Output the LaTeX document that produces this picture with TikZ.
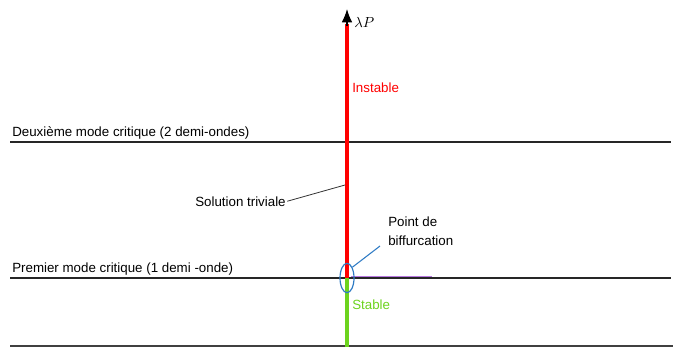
\documentclass[tikz,border=0pt]{standalone}
\usepackage{fontspec}
\setmainfont{Liberation Sans}
\usetikzlibrary{arrows.meta,shapes.geometric}
\definecolor{stablegreen}{HTML}{6CD31E}
\definecolor{bifblue}{HTML}{2E7BC4}
\definecolor{lilac}{HTML}{B878E0}
\tikzset{
  px/.style={x=0.75pt,y=-0.75pt},
  lbl/.style={font=\fontsize{10}{12}\selectfont, inner sep=0pt, anchor=base west},
  hline/.style={line width=0.9pt, black!85},
}
\begin{document}
\begin{tikzpicture}[px]
\useasboundingbox (0,0) rectangle (673,347);
% coordinates
\coordinate (top) at (347,9);
\coordinate (bif) at (347,278);
\coordinate (bot) at (347,347);
\coordinate (l1a) at (10,142); \coordinate (l1b) at (671,142);
\coordinate (l2a) at (10,278); \coordinate (l2b) at (671,278);
\coordinate (l3a) at (10,346); \coordinate (l3b) at (673,346);
% horizontal lines
\draw[hline] (l1a) -- (l1b);
\draw[lilac, line width=1.3pt] (351,277.3) coordinate (pa) -- (432,277.3) coordinate (pb);
\draw[hline] (l2a) -- (l2b);
\draw[line width=1.6pt, black!75] (l3a) -- (l3b);
% axis
\draw[red, line width=2.4pt] (bif) -- (347,24) coordinate (rtop);
\draw[-{Latex[length=10pt,width=8pt]}, line width=1pt, black] (347,26) -- (top);
\draw[stablegreen, line width=2.4pt] (bif) -- (bot);
% ellipse
\node[draw=bifblue, line width=0.9pt, ellipse, minimum width=10.5pt, minimum height=22pt, inner sep=0pt] (ell) at (bif) {};
% labels
\node[lbl, font=\fontsize{11}{13}\selectfont] (lam) at (354,27) {$\lambda P$};
\node[lbl, red] (inst) at (352,92) {Instable};
\node[lbl] (deux) at (12,136) {Deuxième mode critique (2 demi-ondes)};
\node[lbl] (prem) at (12,272) {Premier mode critique (1 demi -onde)};
\node[lbl] (sol) at (195,206) {Solution triviale};
\node[lbl] (pt) at (388,226) {Point de};
\node[lbl] (biff) at (388,245) {biffurcation};
\node[lbl, stablegreen] (stab) at (352,309) {Stable};
% leader lines
\draw[black!80, line width=0.6pt] (sol.east) ++(1pt,0) -- (345,185) coordinate (solend);
\draw[bifblue, line width=0.8pt] (380,246) coordinate (bs) -- (ell.north east);
\end{tikzpicture}
\end{document}
